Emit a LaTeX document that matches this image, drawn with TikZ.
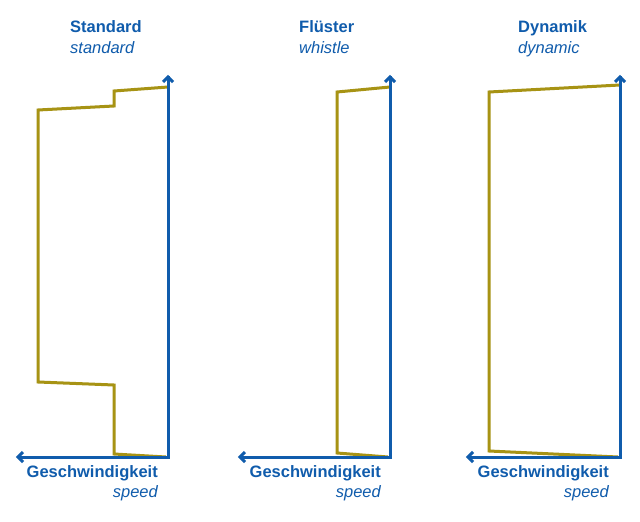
\documentclass[tikz,border=0pt]{standalone}
\usepackage{fontspec}
\setmainfont{Liberation Sans}
\usepackage{tikz}
\usetikzlibrary{positioning}
\definecolor{axisblue}{RGB}{16,92,172}
\definecolor{curveolive}{RGB}{167,147,20}
\begin{document}
\begin{tikzpicture}[x=1pt,y=-1pt,
  axis/.style={axisblue,line width=3pt,line join=miter},
  tip/.style={axisblue,line width=3pt,line join=miter,miter limit=4},
  curve/.style={curveolive,line width=3pt,line join=miter},
  title/.style={anchor=base west,inner sep=0pt,text=axisblue,font=\fontsize{16.5}{18}\selectfont\bfseries},
  subtitle/.style={anchor=base west,inner sep=0pt,text=axisblue,font=\fontsize{16.5}{18}\selectfont\itshape},
  xlabel/.style={anchor=base east,inner sep=0pt,text=axisblue,font=\fontsize{16.5}{18}\selectfont\bfseries},
  xsub/.style={anchor=base east,inner sep=0pt,text=axisblue,font=\fontsize{16.5}{18}\selectfont\itshape}]
\useasboundingbox[fill=white](0,0)rectangle(640,522);

% Standard
\draw[curve](166,457)--(114,454)--(114,385)--(38,382)--(38,110)--(114,106)--(114,91)--(168,87);
\draw[axis](18,457)--(168,457)--(168,76);
\draw[tip](163,82)--(168,77)--(173,82);
\draw[tip](23,452)--(18,457)--(23,462);
\node[title] (std) at (70,32){Standard};
\node[subtitle] (stden) at (70,53){standard};
\node[xlabel] (v1) at (158,477){Geschwindigkeit};
\node[xsub] (v1en) at (158,497){speed};

% Fluester
\draw[curve](388,457)--(337,453)--(337,92)--(390,87);
\draw[axis](240,457)--(390,457)--(390,76);
\draw[tip](385,82)--(390,77)--(395,82);
\draw[tip](245,452)--(240,457)--(245,462);
\node[title] (fl) at (299,32){Flüster};
\node[subtitle] (flen) at (299,53){whistle};
\node[xlabel] (v2) at (381,477){Geschwindigkeit};
\node[xsub] (v2en) at (381,497){speed};

% Dynamik
\draw[curve](618,457)--(489,451)--(489,92)--(620,85);
\draw[axis](468,457)--(620,457)--(620,76);
\draw[tip](615,82)--(620,77)--(625,82);
\draw[tip](473,452)--(468,457)--(473,462);
\node[title] (dyn) at (518,32){Dynamik};
\node[subtitle] (dynen) at (518,53){dynamic};
\node[xlabel] (v3) at (609,477){Geschwindigkeit};
\node[xsub] (v3en) at (609,497){speed};

\end{tikzpicture}
\end{document}
